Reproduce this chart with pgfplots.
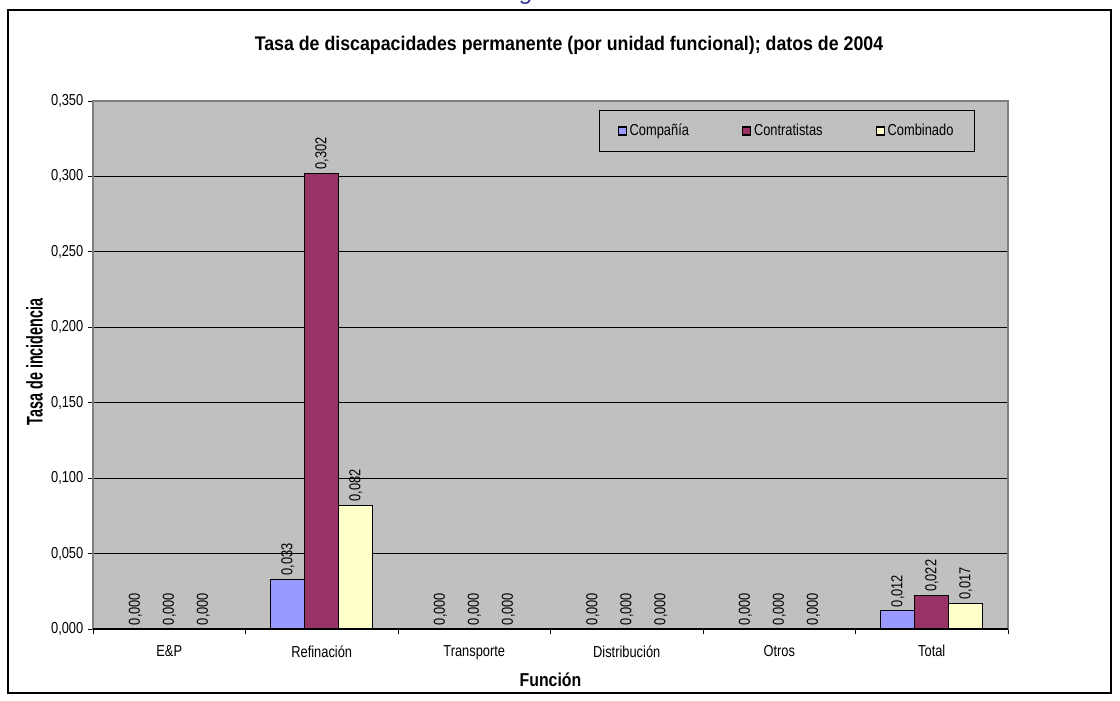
\documentclass[border=0pt]{standalone}
\usepackage{pgfplots}
\pgfplotsset{compat=1.18}
\usepackage{fontspec}
\setmainfont{Liberation Sans}
\newfontfamily\narf{Liberation Sans}[FakeStretch=0.81]
\newfontfamily\titf{Liberation Sans}[FakeStretch=0.9]
\newfontfamily\xlf{Liberation Sans}[FakeStretch=0.85]
\definecolor{bgc}{HTML}{C0C0C0}
\definecolor{framec}{HTML}{808080}
\definecolor{compc}{HTML}{9999FF}
\definecolor{contc}{HTML}{993366}
\definecolor{combc}{HTML}{FFFFCC}
\definecolor{headc}{HTML}{333399}
\newcommand\lbl{\narf\fontsize{11.9}{14}\selectfont}
\begin{document}
\begin{tikzpicture}
\path[use as bounding box] (0,0) rectangle (840pt,525pt);
\draw[black, line width=0.9pt] (6pt,5.25pt) rectangle (833.25pt,517.5pt);
\node[anchor=base, text=headc, font=\itshape\fontsize{18}{20}\selectfont, inner sep=0pt] at (395.25pt,525pt) {g};
\begin{axis}[
  at={(69.75pt,53.25pt)}, anchor=south west,
  scale only axis, width=686.25pt, height=396pt,
  ybar, bar width=25.5pt,
  xmin=-0.5, xmax=5.5, ymin=0, ymax=0.35,
  axis background/.style={fill=bgc},
  axis line style={draw=framec, line width=0.8pt},
  ymajorgrids, grid style={black, line width=0.6pt},
  ytick={0,0.05,0.1,0.15,0.2,0.25,0.3,0.35},
  xtick={-0.5,0.5,1.5,2.5,3.5,4.5,5.5},
  x tick label as interval,
  xticklabels={E\&P,Refinación,Transporte,Distribución,Otros,Total},
  tick align=outside, tick pos=left,
  major tick length=3.75pt,
  tick style={black, line width=0.6pt},
  ticklabel style={font=\lbl},
  xticklabel style={yshift=-5pt},
  /pgf/number format/fixed,
  /pgf/number format/fixed zerofill,
  /pgf/number format/precision=3,
  /pgf/number format/use comma,
  /pgf/number format/assume math mode=true,
  nodes near coords,
  every node near coord/.append style={rotate=90, anchor=west, font=\lbl, inner sep=2.5pt, text=black},
  title={\titf\bfseries\fontsize{14.8}{17}\selectfont Tasa de discapacidades permanente (por unidad funcional); datos de 2004},
  title style={at={(rel axis cs:0.5202,1.091)}, anchor=center},
  xlabel={\xlf\bfseries\fontsize{14}{16}\selectfont Función},
  xlabel style={at={(rel axis cs:0.5,-0.0964)}, anchor=center},
  ylabel={\scalebox{0.636}[1]{\bfseries\fontsize{17}{20}\selectfont Tasa de incidencia}},
  ylabel style={at={(rel axis cs:-0.0639,0.5057)}, anchor=center, rotate=0},
  legend columns=3,
  legend style={at={(rel axis cs:0.7585,0.9432)}, anchor=center, draw=black, line width=0.8pt, fill=none, font=\lbl, inner xsep=14pt, inner ysep=8pt,
    /tikz/every even column/.append style={column sep=38pt}},
  legend image code/.code={\draw[#1, draw=black, line width=0.8pt] (0pt,-3pt) rectangle (6pt,3pt);},
]
\addplot[fill=compc, draw=black, line width=0.8pt, bar shift=-25.5pt] coordinates {(0,0) (1,0.033) (2,0) (3,0) (4,0) (5,0.012)};
\addplot[fill=contc, draw=black, line width=0.8pt, bar shift=0pt] coordinates {(0,0) (1,0.302) (2,0) (3,0) (4,0) (5,0.022)};
\addplot[fill=combc, draw=black, line width=0.8pt, bar shift=25.5pt] coordinates {(0,0) (1,0.082) (2,0) (3,0) (4,0) (5,0.017)};
\legend{Compañía,Contratistas,Combinado}
\draw[black, line width=0.8pt] (rel axis cs:0,0) -- (rel axis cs:1,0);
\end{axis}
\end{tikzpicture}
\end{document}
